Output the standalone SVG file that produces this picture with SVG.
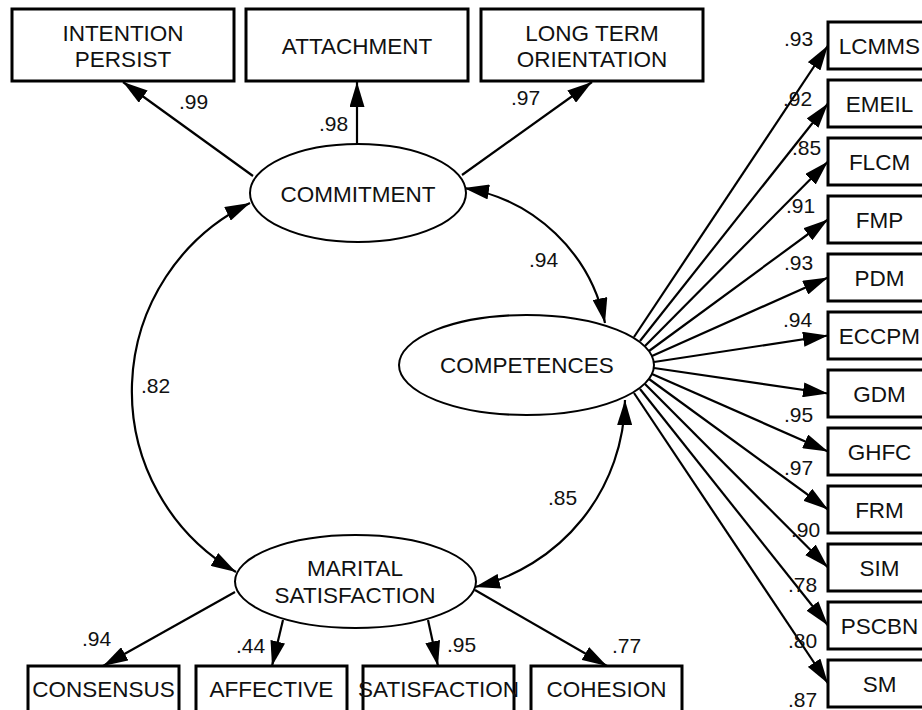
<svg xmlns="http://www.w3.org/2000/svg" width="922" height="710" viewBox="0 0 922 710">
<style>
.box{fill:#fff;stroke:#000;stroke-width:3}
.ell{fill:#fff;stroke:#000;stroke-width:2}
.t{font-family:"Liberation Sans",Arial,sans-serif;font-size:22.5px;fill:#111;text-anchor:middle}
.n{font-family:"Liberation Sans",Arial,sans-serif;font-size:21px;fill:#111}
.c{fill:none;stroke:#000;stroke-width:2.2}
.a{marker-end:url(#ah)}
.d{marker-start:url(#ah);marker-end:url(#ah)}
</style>
<defs>
<marker id="ah" markerUnits="userSpaceOnUse" markerWidth="25" markerHeight="15" refX="25" refY="7.5" orient="auto-start-reverse" viewBox="0 0 25 15">
<path d="M0,0 L25,7.5 L0,15 z" fill="#000"/>
</marker>
</defs>
<rect width="922" height="710" fill="#fff"/>
<g id="connectors">
<line class="c a" x1="253" y1="176" x2="123" y2="82"/>
<line class="c a" x1="357" y1="144" x2="357" y2="82"/>
<line class="c a" x1="462" y1="175" x2="592" y2="82"/>
<path class="c d" d="M250,203 A209,209 0 0 0 236,572"/>
<path class="c d" d="M464,188 A172,172 0 0 1 605,323"/>
<path class="c d" d="M625,400 A195,195 0 0 1 475,587"/>
<line class="c a" x1="634" y1="337" x2="828" y2="45.5"/>
<line class="c a" x1="640" y1="341" x2="828" y2="103.5"/>
<line class="c a" x1="645" y1="346" x2="828" y2="161.5"/>
<line class="c a" x1="649" y1="351" x2="828" y2="219.5"/>
<line class="c a" x1="652" y1="356" x2="828" y2="277.5"/>
<line class="c a" x1="654" y1="362" x2="828" y2="335.5"/>
<line class="c a" x1="654" y1="368" x2="828" y2="393.5"/>
<line class="c a" x1="652" y1="374" x2="828" y2="451.5"/>
<line class="c a" x1="649" y1="379" x2="828" y2="509.5"/>
<line class="c a" x1="645" y1="384" x2="828" y2="567.5"/>
<line class="c a" x1="640" y1="389" x2="828" y2="625.5"/>
<line class="c a" x1="634" y1="393" x2="828" y2="683.5"/>
<line class="c a" x1="235" y1="592" x2="103" y2="666"/>
<line class="c a" x1="283" y1="620" x2="272" y2="666"/>
<line class="c a" x1="428" y1="620" x2="438" y2="666"/>
<line class="c a" x1="475" y1="590" x2="607" y2="666"/>
</g>
<g id="labels">
<text class="n" x="179" y="109">.99</text>
<text class="n" x="319" y="131">.98</text>
<text class="n" x="511" y="105">.97</text>
<text class="n" x="141" y="393">.82</text>
<text class="n" x="529" y="267">.94</text>
<text class="n" x="548" y="505">.85</text>
<text class="n" x="82" y="646">.94</text>
<text class="n" x="236" y="653">.44</text>
<text class="n" x="447" y="652">.95</text>
<text class="n" x="612" y="653">.77</text>
<text class="n" x="784" y="46">.93</text>
<text class="n" x="783" y="106">.92</text>
<text class="n" x="792" y="155">.85</text>
<text class="n" x="786" y="213">.91</text>
<text class="n" x="784" y="270">.93</text>
<text class="n" x="783" y="327">.94</text>
<text class="n" x="784" y="422">.95</text>
<text class="n" x="784" y="475">.97</text>
<text class="n" x="791" y="537">.90</text>
<text class="n" x="788" y="592">.78</text>
<text class="n" x="788" y="648">.80</text>
<text class="n" x="788" y="707">.87</text>
</g>
<g id="intention"><rect class="box" x="12" y="9" width="222" height="72"/><text class="t" x="123" y="41">INTENTION</text><text class="t" x="123" y="67">PERSIST</text></g>
<g id="attachment"><rect class="box" x="246" y="9" width="222" height="72"/><text class="t" x="357" y="54">ATTACHMENT</text></g>
<g id="longterm"><rect class="box" x="481" y="9" width="222" height="72"/><text class="t" x="592" y="41">LONG TERM</text><text class="t" x="592" y="67">ORIENTATION</text></g>
<g id="commitment"><ellipse class="ell" cx="358" cy="193" rx="108" ry="49"/><text class="t" x="358" y="202">COMMITMENT</text></g>
<g id="competences"><ellipse class="ell" cx="526.5" cy="365" rx="127.5" ry="50"/><text class="t" x="527" y="373">COMPETENCES</text></g>
<g id="marital"><ellipse class="ell" cx="355.5" cy="581.5" rx="120.5" ry="46.5"/><text class="t" x="355" y="576">MARITAL</text><text class="t" x="355" y="603">SATISFACTION</text></g>
<g id="lcmms"><rect class="box" x="828" y="22" width="104" height="47"/><text class="t" x="879.5" y="53.5">LCMMS</text></g>
<g id="emeil"><rect class="box" x="828" y="80" width="104" height="47"/><text class="t" x="879.5" y="111.5">EMEIL</text></g>
<g id="flcm"><rect class="box" x="828" y="138" width="104" height="47"/><text class="t" x="879.5" y="169.5">FLCM</text></g>
<g id="fmp"><rect class="box" x="828" y="196" width="104" height="47"/><text class="t" x="879.5" y="227.5">FMP</text></g>
<g id="pdm"><rect class="box" x="828" y="254" width="104" height="47"/><text class="t" x="879.5" y="285.5">PDM</text></g>
<g id="eccpm"><rect class="box" x="828" y="312" width="104" height="47"/><text class="t" x="879.5" y="343.5">ECCPM</text></g>
<g id="gdm"><rect class="box" x="828" y="370" width="104" height="47"/><text class="t" x="879.5" y="401.5">GDM</text></g>
<g id="ghfc"><rect class="box" x="828" y="428" width="104" height="47"/><text class="t" x="879.5" y="459.5">GHFC</text></g>
<g id="frm"><rect class="box" x="828" y="486" width="104" height="47"/><text class="t" x="879.5" y="517.5">FRM</text></g>
<g id="sim"><rect class="box" x="828" y="544" width="104" height="47"/><text class="t" x="879.5" y="575.5">SIM</text></g>
<g id="pscbn"><rect class="box" x="828" y="602" width="104" height="47"/><text class="t" x="879.5" y="633.5">PSCBN</text></g>
<g id="sm"><rect class="box" x="828" y="660" width="104" height="47"/><text class="t" x="879.5" y="691.5">SM</text></g>
<g id="consensus"><rect class="box" x="28" y="666" width="151" height="50"/><text class="t" x="103.5" y="697">CONSENSUS</text></g>
<g id="affective"><rect class="box" x="196" y="666" width="151" height="50"/><text class="t" x="271.5" y="697">AFFECTIVE</text></g>
<g id="satisfaction"><rect class="box" x="363" y="666" width="151" height="50"/><text class="t" x="438.5" y="697">SATISFACTION</text></g>
<g id="cohesion"><rect class="box" x="531" y="666" width="151" height="50"/><text class="t" x="606.5" y="697">COHESION</text></g>
</svg>
